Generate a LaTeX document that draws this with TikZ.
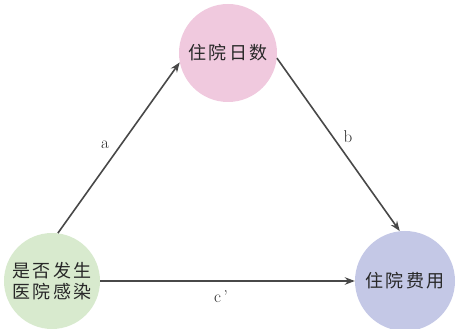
\documentclass[tikz,border=0pt]{standalone}
\usepackage{fontspec}
\usepackage{xcolor}
\usetikzlibrary{arrows.meta, positioning}
\newfontfamily\cjk[LetterSpace=14]{Noto Sans CJK SC}
\definecolor{FillPink}{RGB}{240,201,222}
\definecolor{FillGreen}{RGB}{216,234,206}
\definecolor{FillBlue}{RGB}{196,200,230}
\definecolor{LineGray}{RGB}{72,72,72}
\definecolor{TextGray}{RGB}{40,40,40}
\tikzset{
  >=latex,
  % nodi del diagramma
  stato/.style={circle,draw=none,inner sep=0,text=TextGray,align=center,
    font=\cjk\fontsize{18}{20.5}\selectfont},
  stato rosa/.style={stato,fill=FillPink,minimum size=98},
  stato verde/.style={stato,fill=FillGreen,minimum size=96},
  stato blu/.style={stato,fill=FillBlue,minimum size=100},
  % connessioni
  connect arrow/.style={-{Stealth[length=10,width=7.5]},line width=1.6,LineGray},
  etichetta/.style={text=TextGray,font=\fontsize{17}{20}\selectfont}
}
\begin{document}
\begin{tikzpicture}[x=1pt,y=1pt]
    \useasboundingbox (0,0) rectangle (456,329);
    % nodi
    \node[stato rosa]  (giorni) at (228,276) {住院日数};
    \node[stato verde] (infez)  at (52,48)   {是否发生\\医院感染};
    \node[stato blu]   (costo)  at (405,48)  {住院费用};
    % frecce
    \draw[connect arrow] (infez.83) -- (giorni.191);
    \draw[connect arrow] (giorni.354) -- (costo.96);
    \draw[connect arrow] (infez.east) -- (costo.west);
    % etichette
    \node[etichetta] (la) at (105,184) {a};
    \node[etichetta] (lb) at (348,192) {b};
    \node[etichetta] (lc) at (221,32) {c\,'};
\end{tikzpicture}
\end{document}
